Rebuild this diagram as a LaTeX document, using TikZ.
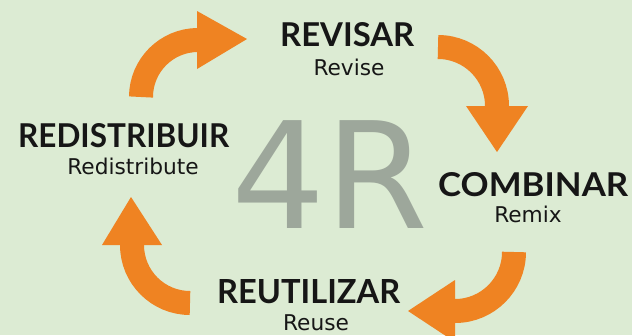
\documentclass[tikz,border=0pt]{standalone}
\usepackage{fontspec}
\usepackage{graphicx}
\newfontfamily\titlefont{Lato}
\newfontfamily\subfont{DejaVu Sans}
\definecolor{bg}{HTML}{DCEBD3}
\definecolor{orng}{HTML}{EF8322}
\definecolor{bignum}{HTML}{9DA79B}
\definecolor{ink}{HTML}{161616}
\tikzset{
  shaft/.style={draw=orng, line width=24pt},
  head/.style={fill=orng},
  title/.style={inner sep=0pt, anchor=north west, text=ink, font=\titlefont\bfseries},
  subtitle/.style={inner sep=0pt, anchor=base, text=ink, font=\subfont\fontsize{21.7}{24}\selectfont},
}
\begin{document}
\begin{tikzpicture}[x=1pt,y=1pt]
\fill[bg] (0,0) rectangle (632,-335);
\useasboundingbox (0,0) rectangle (632,-335);
\clip (0,0) rectangle (632,-335);

% big 4R
\node[inner sep=0pt, anchor=base, text=bignum, font=\subfont\fontsize{148}{148}\selectfont] (fourr) at (330,-228) {4R};

% arrow 1 (top-left, pointing right)
\coordinate (a1t) at (141,-97);
\draw[shaft] (a1t) arc[start angle=180, end angle=90, radius=57pt] -- ++(2,0);
\fill[head] (197,-11) -- (247,-39) -- (197,-69) -- cycle;

% arrow 2 (top-right, pointing down)
\coordinate (a2t) at (438,-47);
\draw[shaft] (a2t) arc[start angle=90, end angle=0, radius=59pt] -- ++(0,-2);
\fill[head] (466,-106) -- (528,-106) -- (497,-152) -- cycle;

% arrow 3 (bottom-right, pointing left)
\coordinate (a3t) at (514,-252);
\draw[shaft] (a3t) arc[start angle=0, end angle=-90, radius=59pt] -- ++(-2,0);
\fill[head] (455,-280) -- (455,-342) -- (408,-311) -- cycle;

% arrow 4 (bottom-left, pointing up)
\coordinate (a4t) at (190,-303);
\draw[shaft] (a4t) arc[start angle=270, end angle=180, radius=58pt] -- ++(0,2);
\fill[head] (102,-245) -- (162,-245) -- (131,-197) -- cycle;

% titles
\node[title] (revisar) at (280,-22) {\resizebox{134pt}{24pt}{REVISAR}};
\node[title] (combinar) at (438,-172) {\resizebox{190pt}{24pt}{COMBINAR}};
\node[title] (reutilizar) at (217,-279) {\resizebox{183pt}{24pt}{REUTILIZAR}};
\node[title] (redistribuir) at (18,-123) {\resizebox{211pt}{24pt}{REDISTRIBUIR}};

% subtitles
\node[subtitle] (revise) at (349,-75) {Revise};
\node[subtitle] (remix) at (528,-222.5) {Remix};
\node[subtitle] (reuse) at (316,-330) {Reuse};
\node[subtitle] (redistribute) at (133,-174) {Redistribute};
\end{tikzpicture}
\end{document}
